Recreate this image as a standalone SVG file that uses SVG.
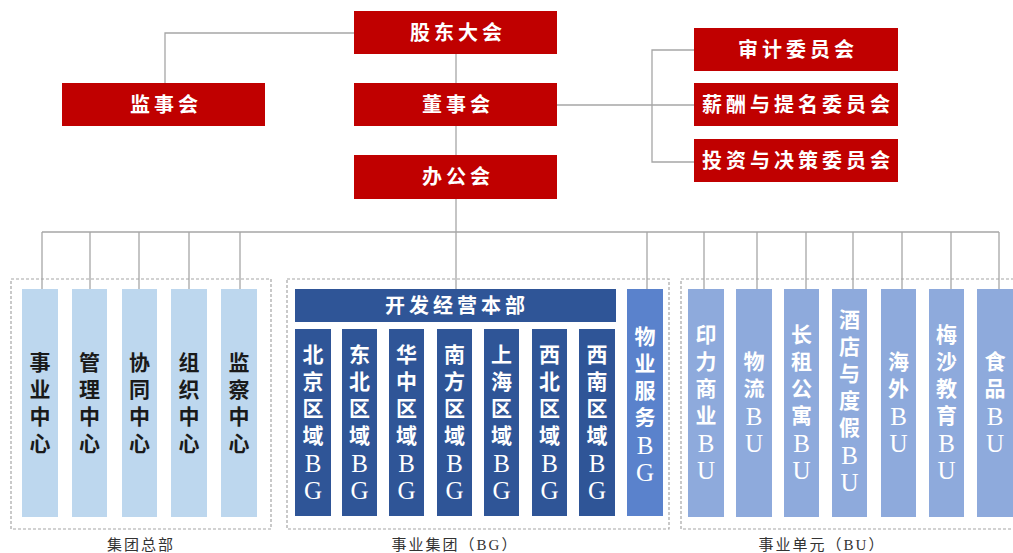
<svg xmlns="http://www.w3.org/2000/svg" width="1013" height="553" viewBox="0 0 1013 553">
<style>
.red{fill:#c00000}
.bgd{fill:#2f5597}
.bgm{fill:#5a82cc}
.bu{fill:#8eaadc}
.hq{fill:#bdd7ee}
.ln{stroke:#a6a6a6;stroke-width:1.3;fill:none}
.dash{stroke:#a6a6a6;stroke-width:1.2;fill:none;stroke-dasharray:3 2}
.t{font-family:"Liberation Serif","Noto Sans CJK SC",serif;font-weight:bold;text-anchor:middle;dominant-baseline:central}
.w{fill:#ffffff;font-size:20px;letter-spacing:4px}
.v{font-size:21px}
.vw{fill:#ffffff}
.vk{fill:#1a1a1a}
.L{font-weight:normal;font-size:25px}
.lab{font-family:"Liberation Serif","Noto Sans CJK SC",serif;font-size:15px;fill:#333;text-anchor:middle;dominant-baseline:central;letter-spacing:2px}
</style>
<rect width="1013" height="553" fill="#ffffff"/>
<g id="connectors">
<polyline class="ln" points="354,33 165,33 165,83"/>
<line class="ln" x1="456" y1="54" x2="456" y2="83"/>
<line class="ln" x1="456" y1="126" x2="456" y2="155"/>
<line class="ln" x1="456" y1="199" x2="456" y2="289"/>
<line class="ln" x1="557" y1="105" x2="694" y2="105"/>
<polyline class="ln" points="694,50 652,50 652,162 694,162"/>
<line class="ln" x1="42" y1="232" x2="999" y2="232"/>
<line class="ln" x1="42" y1="232" x2="42" y2="289"/>
<line class="ln" x1="90" y1="232" x2="90" y2="289"/>
<line class="ln" x1="139" y1="232" x2="139" y2="289"/>
<line class="ln" x1="189" y1="232" x2="189" y2="289"/>
<line class="ln" x1="240" y1="232" x2="240" y2="289"/>
<line class="ln" x1="647" y1="232" x2="647" y2="289"/>
<line class="ln" x1="704" y1="232" x2="704" y2="289"/>
<line class="ln" x1="757" y1="232" x2="757" y2="289"/>
<line class="ln" x1="806" y1="232" x2="806" y2="289"/>
<line class="ln" x1="853" y1="232" x2="853" y2="289"/>
<line class="ln" x1="902" y1="232" x2="902" y2="289"/>
<line class="ln" x1="951" y1="232" x2="951" y2="289"/>
<line class="ln" x1="999" y1="232" x2="999" y2="289"/>
</g>
<g id="group-hq-frame">
<rect class="dash" x="11" y="279" width="260" height="250"/>
<text class="lab" x="141" y="545">集团总部</text>
</g>
<g id="group-bg-frame">
<rect class="dash" x="287" y="279" width="382" height="250"/>
<text class="lab" x="455" y="545">事业集团（BG）</text>
</g>
<g id="group-bu-frame">
<rect class="dash" x="681" y="279" width="340" height="250"/>
<text class="lab" x="822" y="545">事业单元（BU）</text>
</g>
<g id="n-gudong"><rect class="red" x="354" y="11" width="203" height="43"/><text class="t w" x="458" y="33">股东大会</text></g>
<g id="n-jianshi"><rect class="red" x="62" y="83" width="203" height="43"/><text class="t w" x="166" y="105">监事会</text></g>
<g id="n-dongshi"><rect class="red" x="354" y="83" width="203" height="43"/><text class="t w" x="458" y="105">董事会</text></g>
<g id="n-bangong"><rect class="red" x="354" y="155" width="203" height="44"/><text class="t w" x="458" y="177">办公会</text></g>
<g id="n-shenji"><rect class="red" x="694" y="28" width="204" height="43"/><text class="t w" x="798" y="50">审计委员会</text></g>
<g id="n-xinchou"><rect class="red" x="694" y="83" width="204" height="43"/><text class="t w" x="798" y="105">薪酬与提名委员会</text></g>
<g id="n-touzi"><rect class="red" x="694" y="139" width="204" height="43"/><text class="t w" x="798" y="161">投资与决策委员会</text></g>

<g id="n-shiye"><rect class="hq" x="22" y="289" width="36" height="228"/><text class="t v vk"><tspan x="40" y="363">事</tspan><tspan x="40" y="390">业</tspan><tspan x="40" y="417">中</tspan><tspan x="40" y="444">心</tspan></text></g>
<g id="n-guanli"><rect class="hq" x="72" y="289" width="35" height="228"/><text class="t v vk"><tspan x="89.5" y="363">管</tspan><tspan x="89.5" y="390">理</tspan><tspan x="89.5" y="417">中</tspan><tspan x="89.5" y="444">心</tspan></text></g>
<g id="n-xietong"><rect class="hq" x="122" y="289" width="35" height="228"/><text class="t v vk"><tspan x="139.5" y="363">协</tspan><tspan x="139.5" y="390">同</tspan><tspan x="139.5" y="417">中</tspan><tspan x="139.5" y="444">心</tspan></text></g>
<g id="n-zuzhi"><rect class="hq" x="171" y="289" width="36" height="228"/><text class="t v vk"><tspan x="189" y="363">组</tspan><tspan x="189" y="390">织</tspan><tspan x="189" y="417">中</tspan><tspan x="189" y="444">心</tspan></text></g>
<g id="n-jiancha"><rect class="hq" x="221" y="289" width="36" height="228"/><text class="t v vk"><tspan x="239" y="363">监</tspan><tspan x="239" y="390">察</tspan><tspan x="239" y="417">中</tspan><tspan x="239" y="444">心</tspan></text></g>

<g id="n-kaifa"><rect class="bgd" x="295" y="289" width="321" height="33"/><text class="t w" x="457" y="306">开发经营本部</text></g>
<g id="n-beijing"><rect class="bgd" x="295" y="329" width="36" height="187"/><text class="t v vw"><tspan x="313" y="355">北</tspan><tspan x="313" y="382">京</tspan><tspan x="313" y="409">区</tspan><tspan x="313" y="436">域</tspan><tspan class="L" x="313" y="463">B</tspan><tspan class="L" x="313" y="490">G</tspan></text></g>
<g id="n-dongbei"><rect class="bgd" x="342" y="329" width="35" height="187"/><text class="t v vw"><tspan x="359.5" y="355">东</tspan><tspan x="359.5" y="382">北</tspan><tspan x="359.5" y="409">区</tspan><tspan x="359.5" y="436">域</tspan><tspan class="L" x="359.5" y="463">B</tspan><tspan class="L" x="359.5" y="490">G</tspan></text></g>
<g id="n-huazhong"><rect class="bgd" x="389" y="329" width="35" height="187"/><text class="t v vw"><tspan x="406.5" y="355">华</tspan><tspan x="406.5" y="382">中</tspan><tspan x="406.5" y="409">区</tspan><tspan x="406.5" y="436">域</tspan><tspan class="L" x="406.5" y="463">B</tspan><tspan class="L" x="406.5" y="490">G</tspan></text></g>
<g id="n-nanfang"><rect class="bgd" x="437" y="329" width="35" height="187"/><text class="t v vw"><tspan x="454.5" y="355">南</tspan><tspan x="454.5" y="382">方</tspan><tspan x="454.5" y="409">区</tspan><tspan x="454.5" y="436">域</tspan><tspan class="L" x="454.5" y="463">B</tspan><tspan class="L" x="454.5" y="490">G</tspan></text></g>
<g id="n-shanghai"><rect class="bgd" x="484" y="329" width="35" height="187"/><text class="t v vw"><tspan x="501.5" y="355">上</tspan><tspan x="501.5" y="382">海</tspan><tspan x="501.5" y="409">区</tspan><tspan x="501.5" y="436">域</tspan><tspan class="L" x="501.5" y="463">B</tspan><tspan class="L" x="501.5" y="490">G</tspan></text></g>
<g id="n-xibei"><rect class="bgd" x="532" y="329" width="35" height="187"/><text class="t v vw"><tspan x="549.5" y="355">西</tspan><tspan x="549.5" y="382">北</tspan><tspan x="549.5" y="409">区</tspan><tspan x="549.5" y="436">域</tspan><tspan class="L" x="549.5" y="463">B</tspan><tspan class="L" x="549.5" y="490">G</tspan></text></g>
<g id="n-xinan"><rect class="bgd" x="579" y="329" width="36" height="187"/><text class="t v vw"><tspan x="597" y="355">西</tspan><tspan x="597" y="382">南</tspan><tspan x="597" y="409">区</tspan><tspan x="597" y="436">域</tspan><tspan class="L" x="597" y="463">B</tspan><tspan class="L" x="597" y="490">G</tspan></text></g>
<g id="n-wuye"><rect class="bgm" x="627" y="289" width="36" height="227"/><text class="t v vw"><tspan x="645" y="337">物</tspan><tspan x="645" y="364">业</tspan><tspan x="645" y="391">服</tspan><tspan x="645" y="418">务</tspan><tspan class="L" x="645" y="445">B</tspan><tspan class="L" x="645" y="472">G</tspan></text></g>

<g id="n-yinli"><rect class="bu" x="688" y="289" width="36" height="228"/><text class="t v vw"><tspan x="706" y="335">印</tspan><tspan x="706" y="362">力</tspan><tspan x="706" y="389">商</tspan><tspan x="706" y="416">业</tspan><tspan class="L" x="706" y="443">B</tspan><tspan class="L" x="706" y="470">U</tspan></text></g>
<g id="n-wuliu"><rect class="bu" x="736" y="289" width="36" height="228"/><text class="t v vw"><tspan x="754" y="362">物</tspan><tspan x="754" y="389">流</tspan><tspan class="L" x="754" y="416">B</tspan><tspan class="L" x="754" y="443">U</tspan></text></g>
<g id="n-changzu"><rect class="bu" x="784" y="289" width="35" height="228"/><text class="t v vw"><tspan x="801.5" y="335">长</tspan><tspan x="801.5" y="362">租</tspan><tspan x="801.5" y="389">公</tspan><tspan x="801.5" y="416">寓</tspan><tspan class="L" x="801.5" y="443">B</tspan><tspan class="L" x="801.5" y="470">U</tspan></text></g>
<g id="n-jiudian"><rect class="bu" x="832" y="289" width="35" height="228"/><text class="t v vw"><tspan x="849.5" y="320">酒</tspan><tspan x="849.5" y="347">店</tspan><tspan x="849.5" y="374">与</tspan><tspan x="849.5" y="401">度</tspan><tspan x="849.5" y="428">假</tspan><tspan class="L" x="849.5" y="455">B</tspan><tspan class="L" x="849.5" y="482">U</tspan></text></g>
<g id="n-haiwai"><rect class="bu" x="881" y="289" width="35" height="228"/><text class="t v vw"><tspan x="898.5" y="362">海</tspan><tspan x="898.5" y="389">外</tspan><tspan class="L" x="898.5" y="416">B</tspan><tspan class="L" x="898.5" y="443">U</tspan></text></g>
<g id="n-meisha"><rect class="bu" x="929" y="289" width="35" height="228"/><text class="t v vw"><tspan x="946.5" y="335">梅</tspan><tspan x="946.5" y="362">沙</tspan><tspan x="946.5" y="389">教</tspan><tspan x="946.5" y="416">育</tspan><tspan class="L" x="946.5" y="443">B</tspan><tspan class="L" x="946.5" y="470">U</tspan></text></g>
<g id="n-shipin"><rect class="bu" x="977" y="289" width="36" height="228"/><text class="t v vw"><tspan x="995" y="362">食</tspan><tspan x="995" y="389">品</tspan><tspan class="L" x="995" y="416">B</tspan><tspan class="L" x="995" y="443">U</tspan></text></g>
</svg>
